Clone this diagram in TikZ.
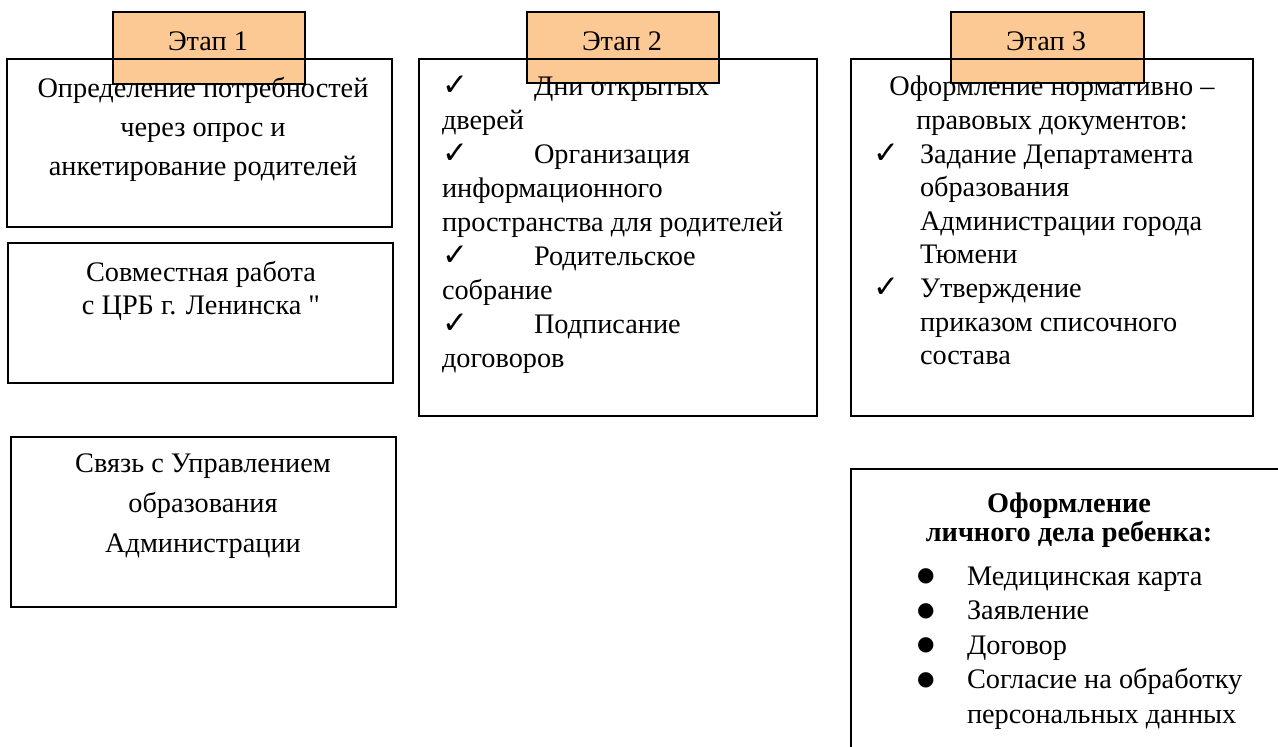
\documentclass[tikz,border=0pt]{standalone}
\usepackage{fontspec}
\setmainfont{Liberation Serif}
\newfontfamily\symfont{DejaVu Sans}
\definecolor{tabfill}{HTML}{FCC995}
\newcommand\chk{{\symfont\fontsize{31}{31}\selectfont ✓}}
\newcommand\bul{\hspace*{-2pt}\raisebox{3.5pt}{\symfont\fontsize{20}{20}\selectfont ●}}
\tikzset{
  boxframe/.style={draw,line width=1.4pt,rectangle,inner sep=0,outer sep=0,anchor=north west},
  tabbox/.style={draw,fill=tabfill,line width=1.4pt,rectangle,inner sep=0,outer sep=0,anchor=north west},
  txt/.style={inner sep=0,outer sep=0,anchor=north}
}
\begin{document}
\begin{tikzpicture}[x=1pt,y=-1pt]
\useasboundingbox (0,0) rectangle (1278,747);
% tabs
\node[tabbox,minimum width=192pt,minimum height=72pt] (tab1) at (113,12) {};
\node[tabbox,minimum width=192pt,minimum height=71pt] (tab2) at (527,12) {};
\node[tabbox,minimum width=193pt,minimum height=71pt] (tab3) at (951,12) {};
\node[inner sep=0,anchor=base,font=\fontsize{28.3}{34}\selectfont] (t1) at (208,50) {Этап 1};
\node[inner sep=0,anchor=base,font=\fontsize{28.3}{34}\selectfont] (t2) at (622,50) {Этап 2};
\node[inner sep=0,anchor=base,font=\fontsize{28.3}{34}\selectfont] (t3) at (1046,50) {Этап 3};
% boxes
\node[boxframe,minimum width=385pt,minimum height=168pt] (b1) at (7,59) {};
\node[boxframe,minimum width=385pt,minimum height=140pt] (b2) at (8,243) {};
\node[boxframe,minimum width=385pt,minimum height=170pt] (b3) at (11,437) {};
\node[boxframe,minimum width=398pt,minimum height=357pt] (b4) at (419,59) {};
\node[boxframe,minimum width=402pt,minimum height=357pt] (b5) at (851,59) {};
\begin{scope}
\clip (0,0) rectangle (1278,747);
\node[boxframe,minimum width=460pt,minimum height=320pt] (b6) at (851,469) {};
\end{scope}
% box 1 text
\node[txt,align=center,font=\fontsize{28.3}{39}\selectfont] (x1) at (203,{97-0.7*39}) {\strut Определение потребностей\\ через опрос и\\ анкетирование родителей};
% box 2 text
\node[txt,align=center,font=\fontsize{28.3}{33}\selectfont] (x2) at (201,{281-0.7*33}) {\strut Совместная работа\\ с ЦРБ г. Ленинска \textquotedbl};
% box 3 text
\node[txt,align=center,font=\fontsize{28.3}{40}\selectfont] (x3) at (203,{472-0.7*40}) {\strut Связь с Управлением\\ образования\\ Администрации};
% box 4 text
\node[inner sep=0,outer sep=0,anchor=north west,align=left,font=\fontsize{28.3}{34.1}\selectfont] (x4) at (442,{95-0.7*34.1}) {\strut\makebox[92pt][l]{\chk}Дни открытых\\ дверей\\ \makebox[92pt][l]{\chk}Организация\\ информационного\\ пространства для родителей\\ \makebox[92pt][l]{\chk}Родительское\\ собрание\\ \makebox[92pt][l]{\chk}Подписание\\ договоров};
% box 5 text
\node[txt,align=center,font=\fontsize{28.3}{34.5}\selectfont] (x5h) at (1052,{95-0.7*34.5}) {\strut Оформление нормативно –\\ правовых документов:};
\node[inner sep=0,outer sep=0,anchor=north west,align=left,font=\fontsize{28.3}{33.6}\selectfont] (x5) at (873,{163-0.7*33.6}) {\strut\makebox[47pt][l]{\chk}Задание Департамента\\ \hspace*{47pt}образования\\ \hspace*{47pt}Администрации города\\ \hspace*{47pt}Тюмени\\ \makebox[47pt][l]{\chk}Утверждение\\ \hspace*{47pt}приказом списочного\\ \hspace*{47pt}состава};
% box 6 text
\node[txt,align=center,font=\bfseries\fontsize{28.3}{29}\selectfont] (x6h) at (1069,{512-0.7*29}) {\strut Оформление\\ личного дела ребенка:};
\node[inner sep=0,outer sep=0,anchor=north west,align=left,font=\fontsize{28.3}{34.5}\selectfont] (x6) at (919,{585-0.7*34.5}) {\strut\makebox[48pt][l]{\bul}Медицинская карта\\ \makebox[48pt][l]{\bul}Заявление\\ \makebox[48pt][l]{\bul}Договор\\ \makebox[48pt][l]{\bul}Согласие на обработку\\ \hspace*{48pt}персональных данных};
\end{tikzpicture}
\end{document}
